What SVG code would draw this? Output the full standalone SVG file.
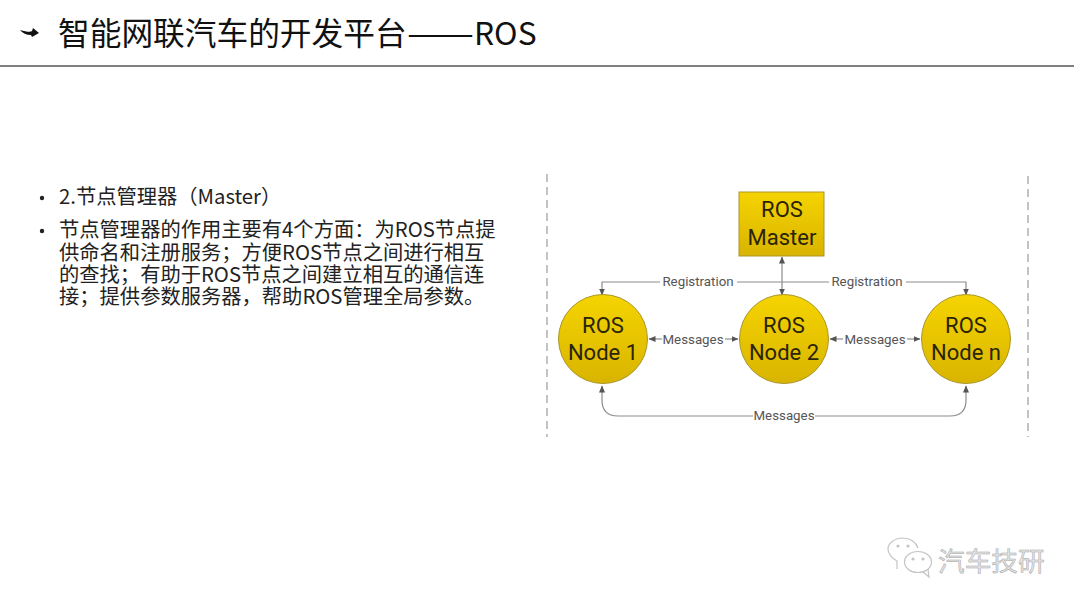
<svg xmlns="http://www.w3.org/2000/svg" width="1080" height="608" viewBox="0 0 1080 608">
<style>
.cjk{font-family:"Noto Sans CJK SC","Noto Sans",sans-serif}
.t{font-size:20.3px;fill:#222}
.n{font-family:"Roboto","Liberation Sans",sans-serif;font-size:22px;fill:#2a2408;text-anchor:middle}
.l{font-family:"Roboto","Liberation Sans",sans-serif;font-size:13.3px;fill:#555;text-anchor:middle}
.c{fill:none;stroke:#8c8c8c;stroke-width:1.2}
.s{fill:url(#g);stroke:#a8962c;stroke-width:1}
.d{stroke:#aaa;stroke-width:1.4;stroke-dasharray:8 5}
</style>
<defs>
<linearGradient id="g" x1="0" y1="0" x2="0" y2="1"><stop offset="0" stop-color="#f5d400"/><stop offset="1" stop-color="#d9b400"/></linearGradient>
<marker id="a" markerWidth="8" markerHeight="8" refX="6.5" refY="3" orient="auto-start-reverse" markerUnits="userSpaceOnUse"><path d="M0 0L7 3L0 6Z" fill="#555"/></marker>
</defs>
<rect width="1080" height="608" fill="#fff"/>
<path d="M20 30Q30 33 32 31L33 28L39 33L32 37L31 35Q24 35 20 30Z" fill="#111"/>
<text class="cjk" x="58" y="45" font-size="31.7" fill="#111">智能网联汽车的开发平台<tspan x="407" textLength="67" lengthAdjust="spacingAndGlyphs">——</tspan><tspan x="474">ROS</tspan></text>
<line x1="0" y1="66" x2="1074" y2="66" stroke="#555" stroke-width="1.3"/>
<g id="text">
<circle cx="42" cy="198" r="2.2" fill="#222"/>
<text class="cjk t" x="59" y="204">2.节点管理器（Master）</text>
<circle cx="42" cy="231" r="2.2" fill="#222"/>
<text class="cjk t"><tspan x="59" y="237">节点管理器的作用主要有4个方面：为ROS节点提</tspan><tspan x="59" y="260">供命名和注册服务；方便ROS节点之间进行相互</tspan><tspan x="59" y="282">的查找；有助于ROS节点之间建立相互的通信连</tspan><tspan x="59" y="304">接；提供参数服务器，帮助ROS管理全局参数。</tspan></text>
</g>
<line class="d" x1="547" y1="174" x2="547" y2="437"/>
<line class="d" x1="1028" y1="176" x2="1028" y2="437"/>
<g id="connectors">
<path class="c" d="M782 257V295" marker-start="url(#a)" marker-end="url(#a)"/>
<path class="c" d="M660 282H602V295" marker-end="url(#a)"/>
<path class="c" d="M737 282H829"/>
<path class="c" d="M906 282H966V295" marker-end="url(#a)"/>
<path class="c" d="M662 339H649" marker-end="url(#a)"/>
<path class="c" d="M725 339H738" marker-end="url(#a)"/>
<path class="c" d="M843 339H830" marker-end="url(#a)"/>
<path class="c" d="M907 339H920" marker-end="url(#a)"/>
<path class="c" d="M753 416H618Q602 416 602 400V386" marker-end="url(#a)"/>
<path class="c" d="M815 416H950Q966 416 966 400V386" marker-end="url(#a)"/>
<text class="l" x="698" y="286">Registration</text>
<text class="l" x="867" y="286">Registration</text>
<text class="l" x="693" y="344">Messages</text>
<text class="l" x="875" y="344">Messages</text>
<text class="l" x="784" y="420">Messages</text>
</g>
<g id="master"><rect class="s" x="739" y="192" width="85" height="64"/><text class="n" x="782" y="217">ROS</text><text class="n" x="782" y="245">Master</text></g>
<g id="node1"><circle class="s" cx="603" cy="339" r="44.5"/><text class="n" x="603" y="333">ROS</text><text class="n" x="603" y="360">Node 1</text></g>
<g id="node2"><circle class="s" cx="784" cy="339" r="44.5"/><text class="n" x="784" y="333">ROS</text><text class="n" x="784" y="360">Node 2</text></g>
<g id="noden"><circle class="s" cx="966" cy="339" r="44.5"/><text class="n" x="966" y="333">ROS</text><text class="n" x="966" y="360">Node n</text></g>
<g id="watermark" fill="none" stroke="#c4c4c4" stroke-width="1.2">
<path d="M897 569L897 561C892 558 888 554 888 549C888 543 895 538 903 538C910 538 916 542 918 548"/>
<ellipse cx="918" cy="562" rx="13.5" ry="10.5" fill="#fff"/>
<path d="M923 572L929 577L928 569"/>
<circle cx="898" cy="546" r="1" fill="#bbb"/><circle cx="908" cy="546" r="1" fill="#bbb"/><circle cx="913" cy="559" r="1" fill="#bbb"/><circle cx="923" cy="559" r="1" fill="#bbb"/>
<text class="cjk" x="938" y="571" font-size="26.7" fill="#e4e4e4" stroke="#a5a5a5" stroke-width=".5">汽车技研</text>
</g>
</svg>
